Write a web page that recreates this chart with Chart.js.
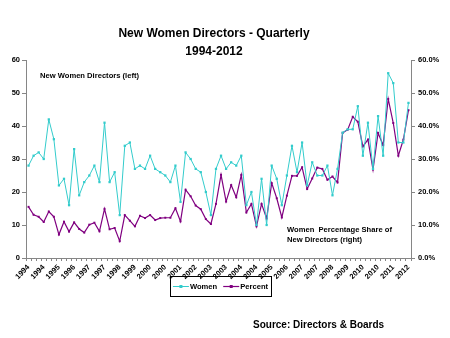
<!DOCTYPE html>
<html><head><meta charset="utf-8">
<script src="https://cdn.jsdelivr.net/npm/chart.js@4"></script>
<style>html,body{margin:0;padding:0;background:#fff}</style>
</head><body>
<canvas id="c" width="450" height="338"></canvas>
<script>
const years = [1994,1995,1996,1997,1998,1999,2000,2001,2002,2003,2004,2005,2006,2007,2008,2009,2010,2011,2012];
const quarters = ['Q1','Q2','Q3','Q4'];
const tickLabels = ['1994','1994','1995','1996','1997','1997','1998','1999','2000','2000','2001','2002','2003','2003','2004','2004','2005','2006','2007','2007','2008','2009','2010','2010','2011','2012'];
const women = [28,31,32,30,42,36,22,24,16,33,19,23,25,28,23,41,23,26,13,34,35,27,28,27,31,27,26,25,23,28,17,32,30,27,26,20,13,27,31,27,29,28,31,16,20,10,24,10,28,24,16,25,34,26,35,22,29,25,25,28,19,27,38,39,39,46,31,41,27,43,31,56,53,35,35,47];
const percent = [15.5,13.1,12.5,10.9,14.1,12.5,7.1,11.0,8.0,10.8,8.8,7.7,10.1,10.7,8.1,14.9,8.7,9.1,5.1,13.0,11.3,9.6,12.8,12.1,13.0,11.5,12.1,12.2,12.2,15.1,11.1,20.7,18.7,15.9,14.8,11.8,10.3,16.4,25.2,17.1,22.1,18.4,25.2,13.8,16.4,9.6,16.4,12.0,22.7,18.1,12.3,18.9,24.9,24.9,27.5,20.9,24.1,27.4,27.0,23.7,24.7,22.9,37.9,38.9,42.8,41.3,33.8,35.9,26.8,37.9,34.2,48.2,40.9,31.0,35.9,44.8];
const seriesNames = ['Women','Percent'];
const titleLines = ['New Women Directors - Quarterly','1994-2012'];
const sourceText = 'Source: Directors & Boards';
const noteLeft = 'New Women Directors (left)';
const noteRight = ['Women  Percentage Share of','New Directors (right)'];

const categories = [];
years.forEach(y => quarters.forEach(q => categories.push(y + ' ' + q)));

const FF = '"Liberation Sans", Arial, sans-serif';
const tickFont = {family: FF, size: 7.5, weight: 'bold'};
const cyan = '#33CCCC', purple = '#800080', axisCol = '#868686';

const extras = {
  id: 'extras',
  afterDraw(chart) {
    const ctx = chart.ctx;
    ctx.save();
    ctx.fillStyle = '#000';
    ctx.textBaseline = 'middle';
    ctx.font = 'bold 12px ' + FF;
    ctx.textAlign = 'center';
    ctx.fillText(titleLines[0], 214, 34);
    ctx.fillText(titleLines[1], 214, 52);
    ctx.textAlign = 'left';
    ctx.font = 'bold 7.6px ' + FF;
    ctx.fillText(noteLeft, 40, 75.5);
    ctx.fillText(noteRight[0], 287, 229.5);
    ctx.fillText(noteRight[1], 287, 239.5);
    ctx.font = 'bold 10px ' + FF;
    ctx.fillText(sourceText, 253, 325);
    ctx.font = 'bold 7.6px ' + FF;
    const ds = chart.data.datasets;
    const lineW = 16, gap = 1, itemGap = 6, pad = 3;
    let total = pad * 2;
    const widths = ds.map(d => ctx.measureText(d.label).width);
    widths.forEach((w, i) => { total += lineW + gap + w + (i < widths.length - 1 ? itemGap : 0); });
    const bx = 220.5 - total / 2, by = 276, bh = 20;
    ctx.strokeStyle = '#000';
    ctx.lineWidth = 1;
    ctx.strokeRect(Math.round(bx) + 0.5, by + 0.5, Math.round(total), bh);
    let x = bx + pad;
    const cy = by + bh / 2 + 0.5;
    ds.forEach((d, i) => {
      ctx.strokeStyle = d.borderColor;
      ctx.lineWidth = d.borderWidth;
      ctx.beginPath(); ctx.moveTo(x, cy); ctx.lineTo(x + lineW, cy); ctx.stroke();
      ctx.fillStyle = d.borderColor;
      ctx.fillRect(x + lineW / 2 - 1.5, cy - 1.5, 3, 3);
      x += lineW + gap;
      ctx.fillStyle = '#000';
      ctx.fillText(d.label, x, cy);
      x += widths[i] + itemGap;
    });
    ctx.restore();
  }
};

new Chart(document.getElementById('c'), {
  type: 'line',
  data: {
    labels: categories,
    datasets: [
      {label: seriesNames[0], data: women, yAxisID: 'y', borderColor: cyan, backgroundColor: cyan, borderWidth: 1, pointStyle: 'rect', pointRadius: 1.6, pointBorderWidth: 0, tension: 0, fill: false},
      {label: seriesNames[1], data: percent, yAxisID: 'y1', borderColor: purple, backgroundColor: purple, borderWidth: 1.2, pointStyle: 'rect', pointRadius: 1.4, pointBorderWidth: 0, tension: 0, fill: false}
    ]
  },
  options: {
    responsive: false,
    devicePixelRatio: 1,
    animation: false,
    layout: {padding: {top: 60, left: 0, right: 0, bottom: 0}},
    plugins: {legend: {display: false}, title: {display: false}, tooltip: {enabled: false}},
    scales: {
      x: {
        type: 'category', offset: true,
        grid: {display: true, drawOnChartArea: false, offset: true, tickLength: 3, color: axisCol},
        border: {display: true, color: axisCol},
        ticks: {autoSkip: false, maxRotation: 45, minRotation: 45, padding: 2, color: '#000', font: tickFont,
          callback: (v, i) => (i % 3 === 0 ? tickLabels[i / 3] : '')},
        afterFit: s => { s.height = 80; }
      },
      y: {
        position: 'left', min: 0, max: 60,
        grid: {display: true, drawOnChartArea: false, tickLength: 4, color: axisCol},
        border: {display: true, color: axisCol},
        ticks: {stepSize: 10, padding: 2, color: '#000', font: tickFont},
        afterFit: s => { s.width = 26; }
      },
      y1: {
        position: 'right', min: 0, max: 60,
        grid: {display: true, drawOnChartArea: false, tickLength: 4, color: axisCol},
        border: {display: true, color: axisCol},
        ticks: {stepSize: 10, padding: 3, color: '#000', font: tickFont, callback: v => v.toFixed(1) + '%'},
        afterFit: s => { s.width = 39; }
      }
    }
  },
  plugins: [extras]
});
</script>
</body></html>
